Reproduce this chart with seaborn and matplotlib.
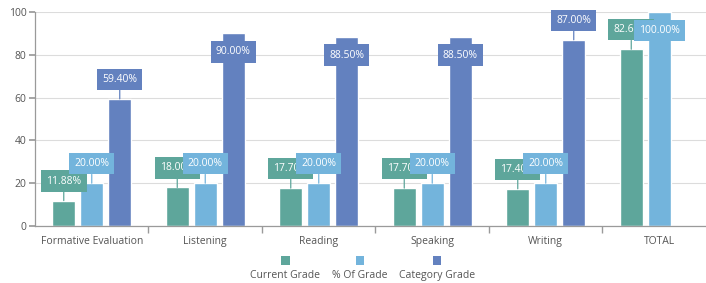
import matplotlib
matplotlib.use("Agg")
import matplotlib.pyplot as plt
import seaborn as sns
import numpy as np
import pandas as pd
from matplotlib.patches import Rectangle

categories = ["Formative Evaluation", "Listening", "Reading", "Speaking", "Writing", "TOTAL"]
series_names = ["Current Grade", "% Of Grade", "Category Grade"]
current_grade = [11.88, 18.00, 17.70, 17.70, 17.40, 82.60]
pct_of_grade = [20.00, 20.00, 20.00, 20.00, 20.00, 100.00]
category_grade = [59.40, 90.00, 88.50, 88.50, 87.00, np.nan]
yticks = [0, 20, 40, 60, 80, 100]
colors = ["#5ea69b", "#73b4dc", "#6381bf"]

sns.set_theme(style="white")
plt.rcParams['font.family'] = ['Open Sans', 'DejaVu Sans']

rows = []
for name, vals in zip(series_names, [current_grade, pct_of_grade, category_grade]):
    for c, v in zip(categories, vals):
        rows.append({"category": c, "series": name, "value": v})
df = pd.DataFrame(rows)

W, H = 706, 283
fig = plt.figure(figsize=(W / 100, H / 100), dpi=100)
ax = fig.add_axes([35 / W, 1 - 226 / H, 681 / W, 214 / H])

sns.barplot(data=df, x="category", y="value", hue="series", order=categories,
            hue_order=series_names, palette=colors, width=0.74, gap=0.19,
            saturation=1, errorbar=None, legend=False, ax=ax, zorder=2)

ax.set_xlim(-0.5, 5.5)
ax.set_ylim(0, 100)
ax.set_yticks(yticks)
ax.set_xlabel("")
ax.set_ylabel("")
ax.grid(axis="y", color="#dcdcdc", linewidth=0.8, zorder=0)
ax.set_axisbelow(True)
for s in ["top", "right"]:
    ax.spines[s].set_visible(False)
for s in ["left", "bottom"]:
    ax.spines[s].set_color("#9a9a9a")
    ax.spines[s].set_linewidth(0.9)
ax.tick_params(axis="y", length=4, color="#9a9a9a", labelsize=7.5, labelcolor="#555555", pad=2, left=True)
ax.tick_params(axis="x", which="major", length=0, labelsize=7.5, labelcolor="#555555", pad=7)
ax.set_xticks(np.arange(len(categories) - 1) + 0.5, minor=True)
ax.tick_params(axis="x", which="minor", length=5, color="#9a9a9a", bottom=True)

# value labels
for cont, col in zip(ax.containers, colors):
    for bar in cont:
        h = bar.get_height()
        if not np.isfinite(h) or h == 0:
            continue
        xc = bar.get_x() + bar.get_width() / 2
        txt = f"{h:.2f}%"
        bbox = dict(boxstyle="square,pad=0.5", fc=col, ec="none")
        if h > 88:
            ax.annotate(txt, xy=(xc, h), xytext=(0, -13), textcoords="offset pixels",
                        ha="center", va="top", color="white", fontsize=7.5, bbox=bbox,
                        zorder=5)
        else:
            ax.annotate(txt, xy=(xc, h), xytext=(0, 14), textcoords="offset pixels",
                        ha="center", va="bottom", color="white", fontsize=7.5, bbox=bbox,
                        arrowprops=dict(arrowstyle="-", color=col, lw=0.9, shrinkA=0, shrinkB=0),
                        zorder=5)

# legend
lx = [285, 360, 437]
for x, name, col in zip(lx, series_names, colors):
    fig.add_artist(Rectangle(((x - 4.5) / W, 1 - 264.5 / H), 9 / W, 9 / H,
                             transform=fig.transFigure, fc=col, ec="none"))
    fig.text(x / W, 1 - 278 / H, name, ha="center", va="baseline", fontsize=7.5, color="#555555")

fig.savefig("out.png", dpi=100)
